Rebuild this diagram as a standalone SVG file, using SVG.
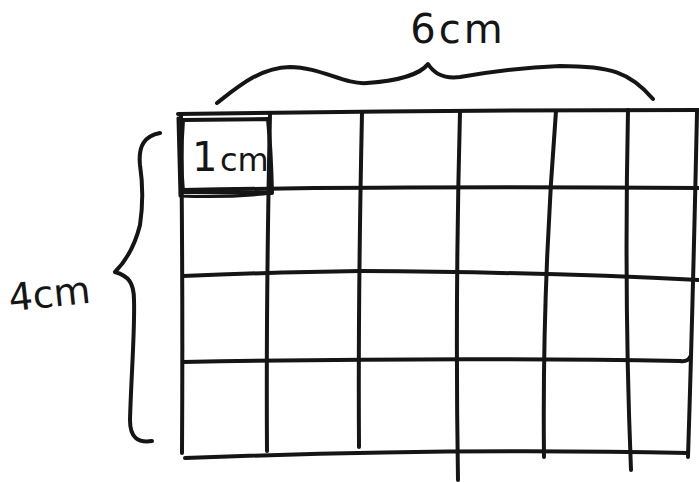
<svg xmlns="http://www.w3.org/2000/svg" width="699" height="482" viewBox="0 0 699 482">
<style>
.s{fill:none;stroke:#151515;stroke-width:4;stroke-linecap:round;stroke-linejoin:round}
.t{font-family:"DejaVu Sans","Liberation Sans",sans-serif;fill:#151515}
</style>
<rect width="699" height="482" fill="#fff"/>
<g id="grid" class="s">
<path d="M178,114 Q440,110 699,110"/>
<path d="M183,190 Q400,186 699,188"/>
<path d="M183,276 Q280,272 360,271 Q540,272 699,280"/>
<path d="M183,362 Q450,357 680,361 Q688,362 690,357"/>
<path d="M185,458 Q450,448 688,453"/>
<path d="M181,115 Q183,300 182,453"/>
<path d="M270,114 Q266,300 267,451"/>
<path d="M362,113 Q358,300 359,447"/>
<path d="M460,112 Q455,300 458,480"/>
<path d="M556,111 Q542,290 544,457"/>
<path d="M628,110 Q624,300 631,470"/>
<path d="M697,112 Q693,300 688,457"/>
</g>
<g id="unit-box" class="s">
<path d="M183,120 L268,119 Q271,150 272,193 L183,192 Q180,160 183,120 Z"/>
<path d="M178,118 L180,196 Q230,198 272,193" stroke-width="3"/>
<text class="t" x="192" y="171" font-size="40" stroke="none">1</text>
<text class="t" x="220" y="171" font-size="32" stroke="none">cm</text>
</g>
<g id="top-brace">
<path class="s" d="M217,103 C240,85 260,68 290,67 C320,67 345,85 367,83 C395,81 420,75 428,64 C435,75 445,79 460,77 C500,70 530,67 560,66 C610,66 630,72 653,99"/>
<text class="t" x="458" y="43" font-size="40" letter-spacing="3" text-anchor="middle">6cm</text>
</g>
<g id="left-brace">
<path class="s" d="M160,133 C145,136 138,145 140,165 C143,185 143,205 140,225 C135,245 125,262 115,272 C128,276 134,282 134,300 C135,330 131,380 130,420 C130,438 138,443 152,441"/>
<text class="t" x="8" y="307" font-size="38" transform="rotate(-6 50 290)">4cm</text>
</g>
</svg>
